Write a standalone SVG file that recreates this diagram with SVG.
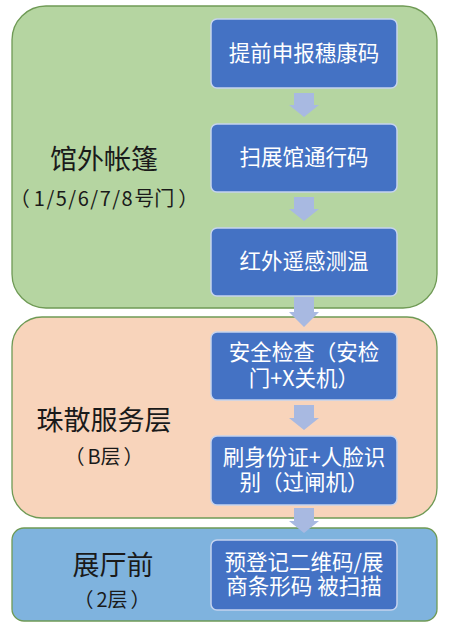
<svg xmlns="http://www.w3.org/2000/svg" width="452" height="634" viewBox="0 0 452 634">
<defs>
<style>
.zone{stroke:#6f9a55;stroke-width:1.3}
.box rect{fill:#4472c4;stroke:#c5d3ee;stroke-width:1.5}
.bt{font-family:"Noto Sans CJK SC","Noto Sans",sans-serif;font-size:21.5px;fill:#ffffff;text-anchor:middle}
.lt{font-family:"Noto Sans CJK SC","Noto Sans",sans-serif;font-size:27px;fill:#1a1a1a;text-anchor:middle}
.st{font-family:"Noto Sans CJK SC","Noto Sans",sans-serif;font-size:20px;fill:#1a1a1a;text-anchor:middle}
.arr{fill:#a8b9e1}
</style>
</defs>
<rect width="452" height="634" fill="#ffffff"/>
<g id="zone-tent">
<rect class="zone" x="12" y="6" width="425" height="302" rx="34" fill="#b5d5a1"/>
<text class="lt" x="104" y="169">馆外帐篷</text>
<text class="st" x="104" y="206">（<tspan dx="4" letter-spacing="1.5">1/5/6/7/8</tspan>号门<tspan dx="4">）</tspan></text>
</g>
<g id="zone-b">
<rect class="zone" x="12" y="317" width="425" height="201" rx="30" fill="#f8d4bb"/>
<text class="lt" x="104" y="430">珠散服务层</text>
<text class="st" x="104" y="464">（<tspan dx="3">B层</tspan><tspan dx="3">）</tspan></text>
</g>
<g id="zone-hall">
<rect class="zone" x="12" y="528" width="425" height="93" rx="12" fill="#7fb3de"/>
<text class="lt" x="113" y="575">展厅前</text>
<text class="st" x="112" y="607">（<tspan dx="3">2层</tspan><tspan dx="3">）</tspan></text>
</g>
<g id="box1" class="box">
<rect x="211" y="19" width="186" height="69" rx="6"/>
<text class="bt" x="304" y="61">提前申报穗康码</text>
</g>
<g id="box2" class="box">
<rect x="211" y="124" width="186" height="68" rx="6"/>
<text class="bt" x="304" y="165">扫展馆通行码</text>
</g>
<g id="box3" class="box">
<rect x="211" y="228" width="186" height="68" rx="6"/>
<text class="bt" x="304" y="269">红外遥感测温</text>
</g>
<g id="box4" class="box">
<rect x="211" y="332" width="186" height="68" rx="6"/>
<text class="bt" x="304" y="360"><tspan x="304" y="360">安全检查（安检</tspan><tspan x="304" y="386">门+X关机）</tspan></text>
</g>
<g id="box5" class="box">
<rect x="211" y="436" width="186" height="69" rx="6"/>
<text class="bt" x="304" y="465"><tspan x="304" y="465">刷身份证+人脸识</tspan><tspan x="304" y="490">别（过闸机）</tspan></text>
</g>
<g id="box6" class="box">
<rect x="211" y="540" width="186" height="70" rx="6"/>
<text class="bt" x="304" y="570"><tspan x="304" y="570">预登记二维码/展</tspan><tspan x="304" y="594">商条形码 被扫描</tspan></text>
</g>
<g id="connectors">
<path class="arr" d="M294,93 H314 V105 H319 L304,117 L289,105 H294 Z"/>
<path class="arr" d="M294,197 H314 V209 H319 L304,221 L289,209 H294 Z"/>
<path class="arr" d="M294,297 H314 V312 H319 L304,327 L289,312 H294 Z"/>
<path class="arr" d="M294,405 H314 V418 H319 L304,430 L289,418 H294 Z"/>
<path class="arr" d="M294,508 H314 V521 H319 L304,533 L289,521 H294 Z"/>
</g>
</svg>
